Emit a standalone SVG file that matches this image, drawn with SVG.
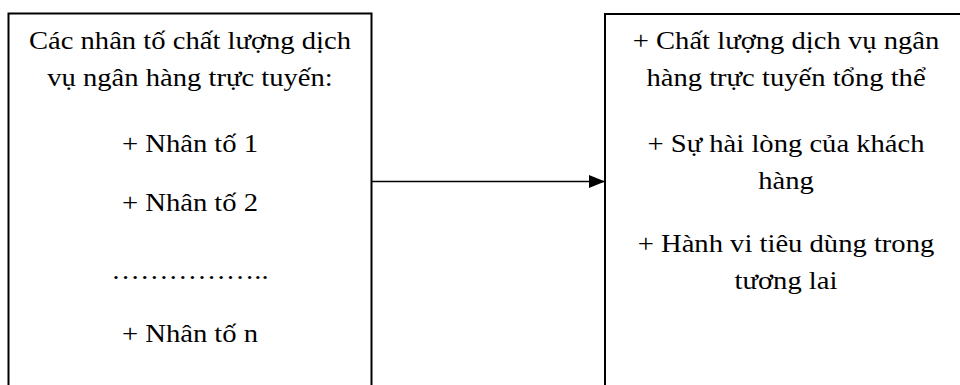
<svg xmlns="http://www.w3.org/2000/svg" width="960" height="385" viewBox="0 0 960 385">
  <defs>
    <style>
      .box { fill: #ffffff; stroke: #000000; stroke-width: 2; }
      .lbl { font-family: "Liberation Serif", "Times New Roman", serif; font-size: 26px; fill: #000000; text-anchor: middle; }
      .link { stroke: #000000; stroke-width: 1.4; fill: none; }
    </style>
    <marker id="arrowhead" markerWidth="16" markerHeight="13" refX="16" refY="6.5" orient="auto" markerUnits="userSpaceOnUse">
      <path d="M0,0 L16,6.5 L0,13 Z" fill="#000000"/>
    </marker>
  </defs>
  <rect x="0" y="0" width="960" height="385" fill="#ffffff"/>

  <g id="factors">
    <rect class="box" x="8.5" y="13.5" width="363" height="420"/>
    <g transform="translate(190,0) scale(1.1,1)">
      <text class="lbl" x="0" y="49">Các nhân tố chất lượng dịch</text>
      <text class="lbl" x="0" y="86">vụ ngân hàng trực tuyến:</text>
      <text class="lbl" x="0" y="152">+ Nhân tố 1</text>
      <text class="lbl" x="0" y="211">+ Nhân tố 2</text>
      <text class="lbl" x="0" y="279">……………..</text>
      <text class="lbl" x="0" y="342">+ Nhân tố n</text>
    </g>
  </g>

  <g id="outcomes">
    <rect class="box" x="605" y="14" width="400" height="420"/>
    <g transform="translate(786,0) scale(1.1,1)">
      <text class="lbl" x="0" y="49">+ Chất lượng dịch vụ ngân</text>
      <text class="lbl" x="0" y="86">hàng trực tuyến tổng thể</text>
      <text class="lbl" x="0" y="152">+ Sự hài lòng của khách</text>
      <text class="lbl" x="0" y="189">hàng</text>
      <text class="lbl" x="0" y="252">+ Hành vi tiêu dùng trong</text>
      <text class="lbl" x="0" y="289">tương lai</text>
    </g>
  </g>

  <g id="connectors">
    <line class="link" x1="372" y1="181.5" x2="605" y2="181.5" marker-end="url(#arrowhead)"/>
  </g>
</svg>
